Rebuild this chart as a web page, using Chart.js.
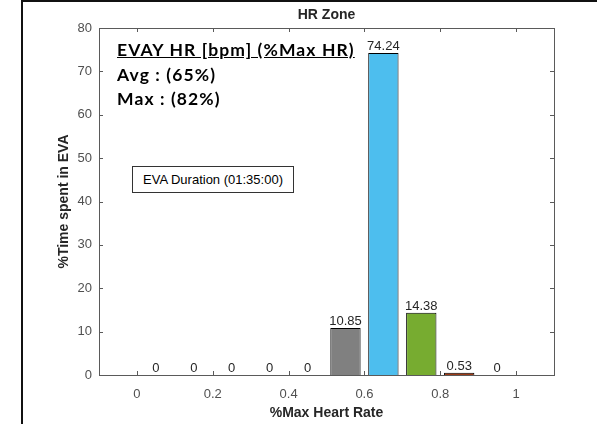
<!DOCTYPE html>
<html lang="en">
<head>
    <meta charset="UTF-8">
    <title>HR Zone</title>
    <script src="https://cdn.jsdelivr.net/npm/chart.js"></script>
    <style>
        body {
            margin: 0;
            padding: 0;
            width: 597px;
            height: 424px;
            overflow: hidden;
            position: relative;
            background: #fff;
            font-family: "Liberation Sans", Arial, sans-serif;
        }
        #frame {
            position: absolute;
            left: 21px;
            top: 0;
            width: 576px;
            height: 424px;
            border-top: 2px solid #111;
            border-left: 2px solid #111;
            box-sizing: border-box;
        }
        #chartBox {
            position: absolute;
            left: 0;
            top: 0;
        }
        #hrNote {
            position: absolute;
            left: 117px;
            top: 38px;
            font-family: Lato, sans-serif;
            font-weight: bold;
            font-size: 17.5px;
            letter-spacing: 1.1px;
            line-height: 24.5px;
            color: #000;
        }
        #hrNote .head {
            text-decoration: underline;
        }
        #duration {
            position: absolute;
            left: 132px;
            top: 166px;
            width: 162px;
            height: 27px;
            border: 1px solid #333;
            box-sizing: border-box;
            font-size: 13px;
            line-height: 25px;
            text-align: center;
            background: #fff;
            color: #000;
        }
    </style>
</head>
<body>
    <div id="frame"></div>
    <canvas id="chartBox" width="597" height="424"></canvas>
    <div id="hrNote">
        <div class="head">EVAY HR [bpm] (%Max HR)</div>
        <div>Avg : (65%)</div>
        <div>Max : (82%)</div>
    </div>
    <div id="duration">EVA Duration (01:35:00)</div>

    <script>
        // bin centres on the %Max HR axis and % of EVA time in each bin
        const binCenters = [0.05, 0.15, 0.25, 0.35, 0.45, 0.55, 0.65, 0.75, 0.85, 0.95];
        const timeSpent = [0, 0, 0, 0, 0, 10.85, 74.24, 14.38, 0.53, 0];
        const xTicks = [0, 0.2, 0.4, 0.6, 0.8, 1];
        const yTicks = [0, 10, 20, 30, 40, 50, 60, 70, 80];

        const zoneColors = ['#808080', '#808080', '#808080', '#808080', '#808080',
                            '#808080', '#4DBEEE', '#77AC30', '#9C3A16', '#808080'];

        const FONT = '"Liberation Sans", Arial, sans-serif';

        // MATLAB style box, inward ticks, bar value labels and title
        const matlabAxes = {
            id: 'matlabAxes',
            afterDatasetsDraw(chart) {
                const ctx = chart.ctx;
                const { left, right, top, bottom } = chart.chartArea;
                const x = chart.scales.x;
                const y = chart.scales.y;
                ctx.save();

                ctx.strokeStyle = '#5a5a5a';
                ctx.lineWidth = 1;
                ctx.strokeRect(Math.round(left) + 0.5, Math.round(top) + 0.5,
                               Math.round(right - left), Math.round(bottom - top));

                ctx.beginPath();
                xTicks.forEach(v => {
                    const px = Math.round(x.getPixelForValue(v)) + 0.5;
                    ctx.moveTo(px, bottom); ctx.lineTo(px, bottom - 4);
                    ctx.moveTo(px, top); ctx.lineTo(px, top + 4);
                });
                yTicks.forEach(v => {
                    const py = Math.round(y.getPixelForValue(v)) + 0.5;
                    ctx.moveTo(left, py); ctx.lineTo(left + 4, py);
                    ctx.moveTo(right, py); ctx.lineTo(right - 4, py);
                });
                ctx.stroke();

                const meta = chart.getDatasetMeta(0);
                ctx.fillStyle = '#262626';
                ctx.font = '13px ' + FONT;
                ctx.textAlign = 'center';
                ctx.textBaseline = 'alphabetic';
                meta.data.forEach((bar, i) => {
                    ctx.fillText(String(timeSpent[i]), bar.x, bar.y - 3);
                });

                ctx.font = 'bold 14px ' + FONT;
                ctx.textBaseline = 'middle';
                ctx.fillText('HR Zone', (left + right) / 2, 15);
                ctx.restore();
            }
        };

        new Chart(document.getElementById('chartBox').getContext('2d'), {
            type: 'bar',
            data: {
                datasets: [{
                    data: binCenters.map((c, i) => ({ x: c, y: timeSpent[i] })),
                    backgroundColor: zoneColors,
                    borderColor: '#000',
                    borderWidth: 1,
                    borderSkipped: 'start',
                    barPercentage: 0.8,
                    categoryPercentage: 1
                }]
            },
            options: {
                responsive: false,
                animation: false,
                layout: { padding: { top: 28, right: 43, left: 0, bottom: 0 } },
                plugins: {
                    legend: { display: false },
                    tooltip: { enabled: false },
                    title: { display: false }
                },
                scales: {
                    x: {
                        type: 'linear',
                        min: -0.1,
                        max: 1.1,
                        offset: false,
                        grid: { display: false, drawTicks: false },
                        border: { display: false },
                        afterBuildTicks: s => { s.ticks = xTicks.map(v => ({ value: v })); },
                        afterFit: s => { s.height = 49; },
                        ticks: {
                            color: '#505050',
                            font: { family: FONT, size: 13 },
                            padding: 12,
                            maxRotation: 0,
                            autoSkip: false,
                            callback: v => String(v)
                        },
                        title: {
                            display: true,
                            text: '%Max Heart Rate',
                            color: '#262626',
                            font: { family: FONT, size: 14, weight: 'bold' },
                            padding: { top: 0, bottom: 2 }
                        }
                    },
                    y: {
                        min: 0,
                        max: 80,
                        grid: { display: false, drawTicks: false },
                        border: { display: false },
                        afterBuildTicks: s => { s.ticks = yTicks.map(v => ({ value: v })); },
                        afterFit: s => { s.width = 99; },
                        ticks: {
                            color: '#505050',
                            font: { family: FONT, size: 13 },
                            padding: 7
                        },
                        title: {
                            display: true,
                            text: '%Time spent in EVA',
                            color: '#262626',
                            font: { family: FONT, size: 14, weight: 'bold' },
                            padding: { top: 56, bottom: 0 }
                        }
                    }
                }
            },
            plugins: [matlabAxes]
        });
    </script>
</body>
</html>
